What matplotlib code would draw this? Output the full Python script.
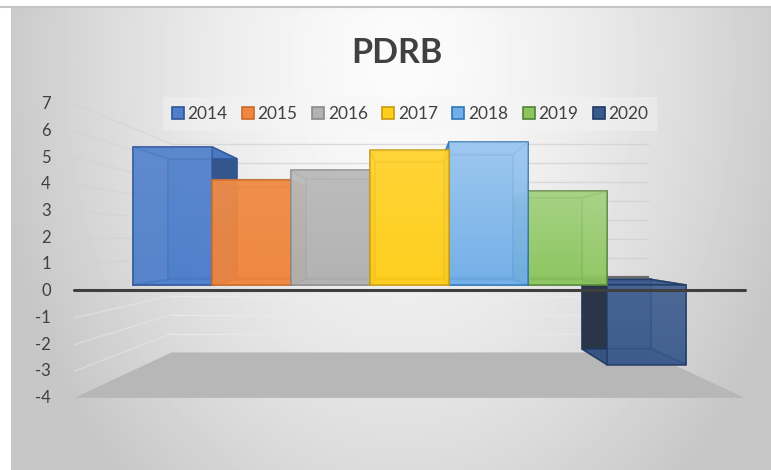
import numpy as np
import matplotlib
matplotlib.use('Agg')
import matplotlib.pyplot as plt
from matplotlib.patches import Patch, Polygon

plt.rcParams['font.family'] = ['Lato', 'DejaVu Sans']

years = ['2014', '2015', '2016', '2017', '2018', '2019', '2020']
values = [5.9, 4.5, 4.9, 5.75, 6.1, 4.0, -3.4]
tick_values = [7, 6, 5, 4, 3, 2, 1, 0, -1, -2, -3, -4]
fills = ['#4f7fcb', '#f0873f', '#b2b2b2', '#ffcf1c', '#72afe8', '#8cc65f', '#3a5a8c']
edges = ['#2f5597', '#c8682a', '#8a8a8a', '#c99a10', '#2e75b6', '#548235', '#1f3864']
sides = ['#34568f', '#c8682a', '#8a8a8a', '#c99a10', '#5f9bd0', '#4f8a3a', '#2b3548']
glow = [0.05, 0.05, 0.12, 0.1, 0.3, 0.22, 0.05]

W, H = 771, 470
PX_CAT, PX_CAT0 = 79.0, 172.5
PX_VAL, PX_VAL0 = 23.4, 285.0

# depth factors around the vanishing point
K_BAR_BACK = 0.874
K_WALL = 0.81
K_FRONT = 1.14
VP_X = (409.5 - PX_CAT0) / PX_CAT
VP_Y = (PX_VAL0 - 241) / PX_VAL
X_LEFT, X_RIGHT = -0.72, 6.72


def deep(x, y, k):
    return VP_X + k * (x - VP_X), VP_Y + k * (y - VP_Y)


fig = plt.figure(figsize=(W / 100, H / 100), dpi=100, facecolor='white')
ax = fig.add_axes([0, 0, 1, 1])
ax.axis('off')

# background gradient of the chart area
xs, ys = np.meshgrid(np.arange(W - 11), np.arange(H - 8))
dist = np.sqrt(((xs + 11 - 400) / 400.0) ** 2 + (0.75 * (ys + 8 - 60) / 420.0) ** 2)
shade = np.clip(0.985 - 0.2 * dist ** 1.5, 0.78, 1)
ax.imshow(shade, cmap='gray', vmin=0, vmax=1, aspect='auto', zorder=0,
          extent=[(11 - PX_CAT0) / PX_CAT, (W - PX_CAT0) / PX_CAT,
                  (PX_VAL0 - H) / PX_VAL, (PX_VAL0 - 8) / PX_VAL])
fig.add_artist(plt.Line2D([0, 1], [1 - 7 / H, 1 - 7 / H], color='#c4c4c4', lw=1.5))

# floor
floor = [deep(X_LEFT, -4, K_FRONT), deep(X_RIGHT, -4, K_FRONT),
         deep(X_RIGHT, -4, K_WALL), deep(X_LEFT, -4, K_WALL)]
ax.add_patch(Polygon(floor, closed=True, fc='#b7b7b7', ec='none', zorder=1))

# gridlines on the side wall and back wall
for v in tick_values:
    if v == -4:
        continue
    col = '#cfcfcf' if v >= 0 else '#ececec'
    p0 = deep(X_LEFT, v, K_FRONT)
    p1 = deep(X_LEFT, v, K_WALL)
    p2 = deep(X_RIGHT, v, K_WALL)
    if v != 0:
        ax.plot([p0[0], p1[0]], [p0[1], p1[1]], color=col, lw=1, alpha=0.45, zorder=1)
    ax.plot([p1[0], p2[0]], [p1[1], p2[1]], color='#6a6a6a' if v == 0 else col,
            lw=1.6 if v == 0 else 1, alpha=1 if v == 0 else 0.7, zorder=1)


def face(pts, fc, alpha, ec, z):
    ax.add_patch(Polygon(pts, closed=True, fc=matplotlib.colors.to_rgba(fc, alpha),
                         ec=matplotlib.colors.to_rgba(ec, 0.75), lw=1.2, zorder=z))


# outer bars first, the one facing the viewer last
order = sorted(range(len(values)), key=lambda i: -abs(i - VP_X))
for z, i in enumerate(order):
    zz = 3 + z
    x0, x1 = i - 0.5, i + 0.5
    v = values[i]
    a = deep(x0, 0, 1)
    b = deep(x1, 0, 1)
    c = deep(x1, v, 1)
    d = deep(x0, v, 1)
    ab = deep(x0, 0, K_BAR_BACK)
    bb = deep(x1, 0, K_BAR_BACK)
    cb = deep(x1, v, K_BAR_BACK)
    db = deep(x0, v, K_BAR_BACK)
    left_outer = x0 > VP_X
    right_outer = x1 < VP_X
    face([ab, bb, cb, db], fills[i], 0.9, edges[i], zz)
    face([a, ab, db, d], sides[i] if left_outer else fills[i],
         1.0 if left_outer else 0.7, edges[i], zz)
    face([b, bb, cb, c], sides[i] if right_outer else fills[i],
         1.0 if right_outer else 0.7, edges[i], zz)
    face([d, c, cb, db], fills[i], 0.85, edges[i], zz)
    face([a, b, bb, ab], fills[i], 0.85, edges[i], zz)
    face([a, b, c, d], fills[i], 0.8, edges[i], zz)
    # lighter towards the top of the front face
    sheen = np.ones((64, 1, 4))
    sheen[:, 0, 3] = np.linspace(glow[i], 0, 64)
    ax.imshow(sheen, aspect='auto', zorder=zz, extent=[x0, x1, min(0, v), max(0, v)])

ax.set_xlim(-PX_CAT0 / PX_CAT, (W - PX_CAT0) / PX_CAT)
ax.set_ylim((PX_VAL0 - H) / PX_VAL, PX_VAL0 / PX_VAL)

# horizontal axis line at the front
z0 = deep(X_LEFT, 0, 1.11)
z1 = deep(X_RIGHT, 0, 1.11)
ax.plot([deep(X_LEFT, 0, K_FRONT)[0], deep(X_RIGHT, 0, K_FRONT)[0]], [z0[1], z1[1]],
        color='#3f3f3f', lw=2.2, solid_capstyle='round', zorder=20)

# value labels
for v in tick_values:
    x, y = deep(X_LEFT, v, K_FRONT)
    ax.annotate(str(v), (x, y), xytext=(-17, 0), textcoords='offset points',
                ha='right', va='center', fontsize=12, color='#404040', zorder=21)

handles = [Patch(fc=f, ec=e, lw=1.2) for f, e in zip(fills, edges)]
leg = ax.legend(handles, years, ncol=7, loc='center', bbox_to_anchor=(410 / W, 1 - 114 / H),
                bbox_transform=fig.transFigure, fontsize=12.4, frameon=True, fancybox=False,
                handlelength=0.7, handleheight=0.64, handletextpad=0.2, columnspacing=0.85,
                labelcolor='#404040', borderpad=0.5)
leg.get_frame().set(facecolor='#f6f6f6', alpha=0.4, edgecolor='none')
leg.set_zorder(2)

ax.text((397 - PX_CAT0) / PX_CAT, (PX_VAL0 - 53) / PX_VAL, 'PDRB', ha='center', va='center',
        fontsize=24.5, fontweight='bold', color='#404040', zorder=21)

fig.savefig('out.png', dpi=100)
